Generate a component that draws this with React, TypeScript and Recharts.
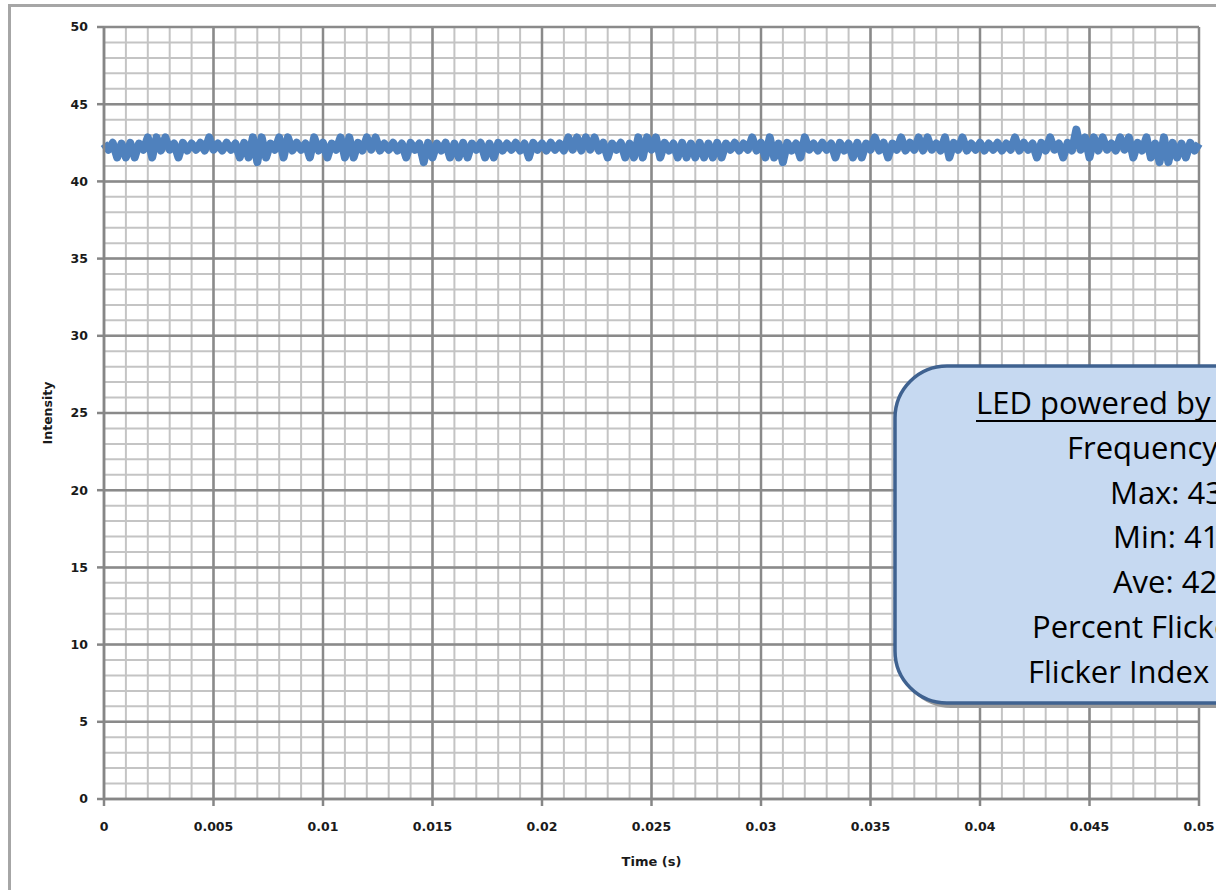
import { LineChart, Line, XAxis, YAxis, CartesianGrid } from "recharts";

// sampling clock of the flicker meter (s)
const SAMPLE_PERIOD = 0.0002;

// intensity readings, 0 .. 0.05 s
const intensity = [
  42.45, 42.05, 42.5, 41.55, 42.45, 41.55, 42.5, 41.55, 42.45, 42.05,
  42.85, 41.55, 42.85, 42.0, 42.85, 42.05, 42.45, 41.55, 42.5, 42.0,
  42.45, 42.05, 42.5, 42.0, 42.85, 42.05, 42.45, 42.0, 42.5, 42.05,
  42.45, 41.55, 42.5, 41.55, 42.85, 41.25, 42.85, 41.55, 42.45, 42.05,
  42.85, 41.55, 42.85, 42.0, 42.5, 42.05, 42.45, 41.55, 42.85, 42.0,
  42.5, 41.55, 42.45, 42.05, 42.85, 41.55, 42.85, 41.55, 42.5, 42.0,
  42.85, 42.05, 42.85, 42.0, 42.45, 42.05, 42.5, 42.0, 42.45, 41.55,
  42.5, 42.05, 42.45, 41.25, 42.5, 41.55, 42.45, 42.0, 42.5, 41.55,
  42.45, 41.55, 42.5, 41.55, 42.45, 42.05, 42.5, 41.55, 42.45, 41.55,
  42.5, 42.0, 42.45, 42.05, 42.5, 42.0, 42.45, 41.55, 42.5, 42.05,
  42.45, 42.0, 42.5, 42.05, 42.45, 42.0, 42.85, 42.05, 42.85, 42.0,
  42.85, 42.05, 42.85, 42.0, 42.5, 41.55, 42.45, 42.05, 42.5, 41.55,
  42.45, 41.55, 42.85, 41.55, 42.85, 42.05, 42.85, 41.55, 42.5, 42.0,
  42.45, 41.55, 42.5, 41.55, 42.45, 41.55, 42.5, 41.55, 42.45, 41.55,
  42.5, 41.55, 42.45, 42.05, 42.5, 42.0, 42.45, 42.05, 42.85, 42.0,
  42.5, 41.55, 42.85, 41.55, 42.45, 41.25, 42.5, 42.0, 42.45, 41.55,
  42.85, 42.05, 42.45, 42.0, 42.5, 42.05, 42.45, 41.55, 42.5, 42.0,
  42.45, 41.55, 42.5, 41.55, 42.45, 42.05, 42.85, 42.0, 42.5, 41.55,
  42.45, 42.05, 42.85, 42.0, 42.5, 42.05, 42.85, 42.0, 42.85, 42.05,
  42.45, 42.0, 42.85, 41.55, 42.5, 42.05, 42.85, 42.0, 42.45, 42.05,
  42.5, 42.0, 42.45, 42.05, 42.5, 42.0, 42.45, 42.05, 42.85, 42.0,
  42.5, 42.05, 42.45, 41.55, 42.5, 42.0, 42.85, 42.05, 42.45, 41.55,
  42.5, 42.0, 43.35, 42.05, 42.85, 41.55, 42.85, 42.0, 42.85, 42.05,
  42.45, 42.0, 42.85, 42.05, 42.85, 41.55, 42.5, 42.0, 42.85, 41.55,
  42.45, 41.25, 42.85, 41.25, 42.5, 41.55, 42.45, 41.55, 42.5, 42.0,
  42.45,
];

const xTicks = [0, 0.005, 0.01, 0.015, 0.02, 0.025, 0.03, 0.035, 0.04, 0.045, 0.05];
const yTicks = [0, 5, 10, 15, 20, 25, 30, 35, 40, 45, 50];
const xMinorTicks = Array.from({ length: 51 }, (_, i) => i / 1000);
const yMinorTicks = Array.from({ length: 51 }, (_, i) => i);

const infoTitle = "LED powered by";
const infoLines = [
  "Frequency",
  "Max: 43",
  "Min: 41",
  "Ave: 42",
  "Percent Flicker",
  "Flicker Index",
];

const data = intensity.map((v, i) => ({
  t: +(i * SAMPLE_PERIOD).toFixed(4),
  v,
}));

const AXIS = "#868686";
const tickFont = {
  fontFamily: "DejaVu Sans",
  fontWeight: 700,
  fontSize: 12.5,
  fill: "#1a1a1a",
};

export default function App() {
  // left edge of each (centred) info line, as it sits in the picture
  const infoX = [1067, 1110, 1113, 1113, 1032, 1028];

  return (
    <div
      style={{
        position: "absolute",
        left: 0,
        top: 0,
        width: 1216,
        height: 890,
        overflow: "hidden",
        background: "#fff",
      }}
    >
      <div
        style={{
          position: "absolute",
          left: 8,
          top: 4,
          width: 1400,
          height: 1000,
          border: "3px solid #a6a6a6",
        }}
      />
      <div style={{ position: "absolute", left: 0, top: 0 }}>
        <LineChart
          width={1216}
          height={890}
          data={data}
          margin={{ top: 27, right: 17, left: 34, bottom: 21 }}
        >
          <CartesianGrid
            horizontalValues={yMinorTicks}
            verticalValues={xMinorTicks}
            stroke="#c4c4c4"
            strokeWidth={2}
          />
          <CartesianGrid stroke="#8a8a8a" strokeWidth={2.5} />
          <XAxis
            type="number"
            dataKey="t"
            domain={[0, 0.05]}
            ticks={xTicks}
            interval={0}
            height={70}
            tickSize={7}
            tickMargin={16}
            stroke={AXIS}
            strokeWidth={2.5}
            tick={tickFont}
            label={({ viewBox }: any) => (
              <text
                x={viewBox.x + viewBox.width / 2}
                y={viewBox.y + 67}
                textAnchor="middle"
                fontFamily="DejaVu Sans"
                fontWeight={700}
                fontSize={13}
                fill="#1a1a1a"
              >
                Time (s)
              </text>
            )}
          />
          <YAxis
            type="number"
            domain={[0, 50]}
            ticks={yTicks}
            interval={0}
            width={70}
            tickSize={7}
            tickMargin={9}
            stroke={AXIS}
            strokeWidth={2.5}
            tick={tickFont}
            label={({ viewBox }: any) => {
              const x = viewBox.x + 13;
              const y = viewBox.y + viewBox.height / 2;
              return (
                <text
                  x={x}
                  y={y}
                  transform={`rotate(-90 ${x} ${y})`}
                  textAnchor="middle"
                  dominantBaseline="central"
                  fontFamily="DejaVu Sans"
                  fontWeight={700}
                  fontSize={12.5}
                  fill="#1a1a1a"
                >
                  Intensity
                </text>
              );
            }}
          />
          <Line
            type="linear"
            dataKey="v"
            stroke="#4f81bd"
            strokeWidth={8}
            strokeLinejoin="round"
            dot={false}
            isAnimationActive={false}
          />
        </LineChart>
      </div>
      <svg
        width={1216}
        height={890}
        style={{ position: "absolute", left: 0, top: 0, pointerEvents: "none" }}
      >
        <rect x={899} y={371} width={400} height={337} rx={52} fill="#9b9b9b" />
        <rect
          x={895}
          y={366}
          width={400}
          height={337}
          rx={52}
          fill="#c6d9f1"
          stroke="#3f6290"
          strokeWidth={3.5}
        />
        <g fontFamily="Open Sans" fontSize={31} fill="#000">
          <text x={976} y={414}>
            {infoTitle}
          </text>
          <line x1={976} x2={1216} y1={421} y2={421} stroke="#000" strokeWidth={2} />
          {infoLines.map((s, i) => (
            <text key={s} x={infoX[i]} y={459 + i * 44.7}>
              {s}
            </text>
          ))}
        </g>
      </svg>
    </div>
  );
}
